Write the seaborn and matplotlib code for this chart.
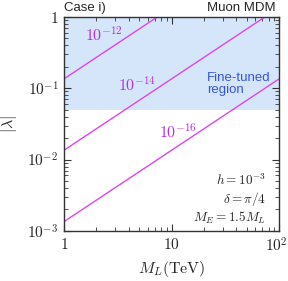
import numpy as np
import pandas as pd
import matplotlib
matplotlib.use("Agg")
import matplotlib.pyplot as plt
import matplotlib.transforms as mtransforms
import seaborn as sns

# ---- data ----
M_L = [1.0, 100.0]                      # TeV, end points of each line
lam_12 = [0.135, 13.5]
lam_14 = [0.0135, 1.35]
lam_16 = [0.00135, 0.135]
line_names = ["1e-12", "1e-14", "1e-16"]
line_labels = [r"$10^{-12}$", r"$10^{-14}$", r"$10^{-16}$"]
label_pos = [(2.36, 0.56), (4.8, 0.112), (11.5, 0.0245)]
finetune_low = 0.05

xticks = [1, 10, 100]
xticklabels = [r"$1$", r"$10$", r"$10^2$"]
yticks = [1e-3, 1e-2, 1e-1, 1]
yticklabels = [r"$10^{-3}$", r"$10^{-2}$", r"$10^{-1}$", r"$1$"]

df = pd.DataFrame({
    "M": M_L * 3,
    "lam": lam_12 + lam_14 + lam_16,
    "line": [n for n in line_names for _ in M_L],
})

#---------------------------------------
sns.set_style("ticks")
plt.rcParams["mathtext.fontset"] = "cm"
plt.rcParams["font.family"] = ["Liberation Sans", "DejaVu Sans"]

fig = plt.figure(figsize=(2.88, 2.81), dpi=100)
ax = fig.add_axes([0.222, 0.178, 0.747, 0.762])

ax.axhspan(finetune_low, 1, color="#d5e6fb", lw=0, zorder=0)

line_col = "#dd44f2"
sns.lineplot(data=df, x="M", y="lam", hue="line", palette=[line_col] * 3,
             legend=False, lw=1.0, ax=ax)

ax.set_xscale("log")
ax.set_yscale("log")
ax.set_xlim(1, 100)
ax.set_ylim(1e-3, 1)

for lab, (x, y) in zip(line_labels, label_pos):
    ax.text(x, y, lab, color="#b52ee0", fontsize=11.5, ha="center", va="center")

ax.text(21.4, 0.115, "Fine-tuned\nregion", color="#3355e6", fontsize=9.5,
        ha="left", va="center", linespacing=1.05)

ax.text(0.94, 0.238, r"$h=10^{-3}$", transform=ax.transAxes, ha="right", va="center", fontsize=9.5)
ax.text(0.94, 0.150, r"$\delta=\pi/4$", transform=ax.transAxes, ha="right", va="center", fontsize=9.5)
ax.text(0.94, 0.061, r"$M_E=1.5M_L$", transform=ax.transAxes, ha="right", va="center", fontsize=9.5)

ax.text(0.0, 1.015, "Case i)", transform=ax.transAxes, ha="left", va="bottom", fontsize=9.5)
ax.text(0.985, 1.015, "Muon MDM", transform=ax.transAxes, ha="right", va="bottom", fontsize=9.5)

ax.set_xticks(xticks)
ax.set_xticklabels(xticklabels, fontsize=11)
ax.set_yticks(yticks)
ax.set_yticklabels(yticklabels, fontsize=11)
ax.tick_params(which="both", direction="in", top=True, right=True, color="#333333")
ax.tick_params(which="major", length=5, width=0.8, pad=4)
ax.tick_params(which="minor", length=3, width=0.6)

# nudge the last x label so it stays inside the figure
last = ax.get_xticklabels()[-1]
last.set_transform(last.get_transform() +
                   mtransforms.ScaledTranslation(-3 / 100, 0, fig.dpi_scale_trans))

ax.set_xlabel(r"$M_L(\mathrm{TeV})$", fontsize=11.5, labelpad=3)
ax.set_ylabel(r"$|\lambda|$", fontsize=11.5, labelpad=6)

for s in ax.spines.values():
    s.set_color("#333333")
    s.set_linewidth(1.0)

fig.savefig("out.png", dpi=100)
